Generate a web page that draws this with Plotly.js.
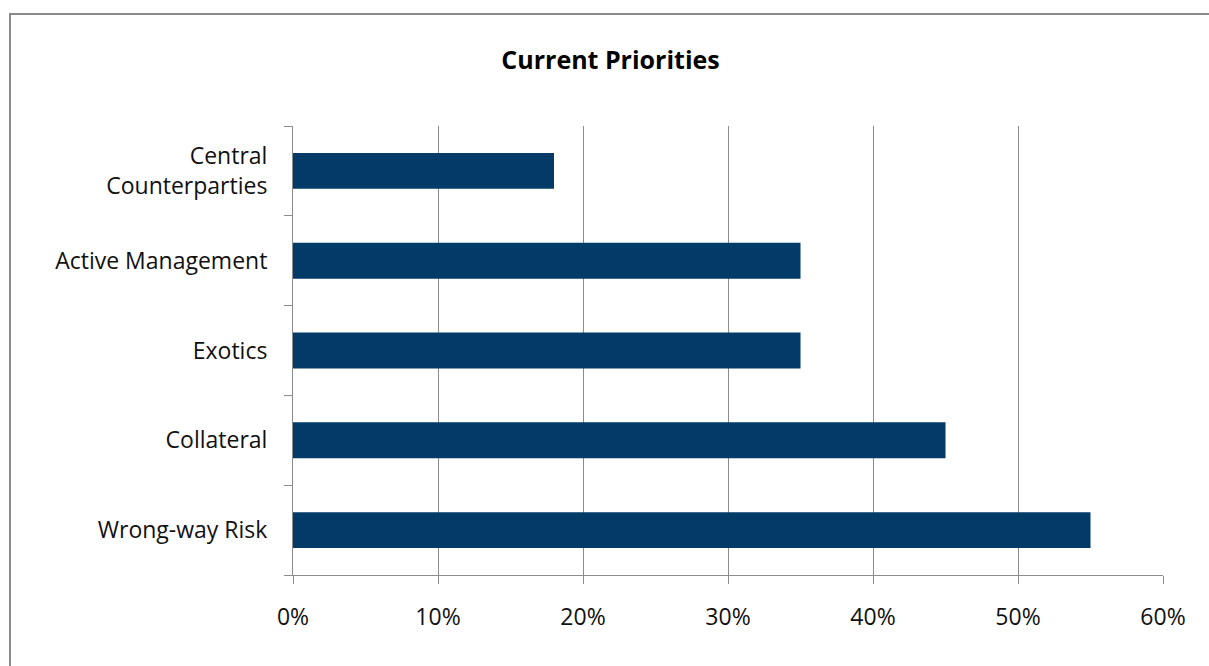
<!DOCTYPE html>
<html>
<head>
<meta charset="utf-8">
<script src="https://cdn.plot.ly/plotly-3.0.1.min.js"></script>
<style>
body{margin:0;padding:0;background:#fff;overflow:hidden;}
#frame{position:absolute;left:9px;top:13px;width:1300px;height:700px;border:2px solid #8a8a8a;pointer-events:none;z-index:5;}
#chart{position:absolute;left:0;top:0;width:1209px;height:666px;}
</style>
</head>
<body>
<div id="chart"></div>
<div id="frame"></div>
<script>
const categories = ["Wrong-way Risk", "Collateral", "Exotics", "Active Management", "Central<br>Counterparties"];
const values = [0.55, 0.45, 0.35, 0.35, 0.18];
const xTickVals = [0, 0.1, 0.2, 0.3, 0.4, 0.5, 0.6];
const xTickText = ["0%", "10%", "20%", "30%", "40%", "50%", "60%"];

const font = "'Open Sans', sans-serif";
const data = [{
  type: "bar",
  orientation: "h",
  y: categories,
  x: values,
  marker: {color: "#023a68"},
  hoverinfo: "x+y"
}];
const layout = {
  width: 1209, height: 666,
  margin: {l: 293, r: 46, t: 126, b: 91},
  paper_bgcolor: "#fff", plot_bgcolor: "#fff",
  bargap: 0.6,
  showlegend: false,
  title: {text: "<b>Current Priorities</b>", x: 0.505, xanchor: "center", y: 0.91, yanchor: "middle", xref: "container",
          font: {family: font, size: 25, color: "#000"}},
  xaxis: {
    range: [0, 0.6], tickvals: xTickVals, ticktext: xTickText,
    showgrid: true, gridcolor: "#8c8c8c", gridwidth: 1,
    showline: true, linecolor: "#8c8c8c", linewidth: 1,
    ticks: "outside", ticklen: 8, tickcolor: "#8c8c8c",
    ticklabelstandoff: 13,
    tickfont: {family: font, size: 23, color: "#111"},
    zeroline: false, fixedrange: true
  },
  yaxis: {
    type: "category", categoryorder: "array", categoryarray: categories,
    showgrid: false,
    showline: true, linecolor: "#8c8c8c", linewidth: 1,
    ticks: "outside", ticklen: 8, tickcolor: "#8c8c8c", tickson: "boundaries",
    ticklabelstandoff: 20,
    tickfont: {family: font, size: 23, color: "#111"},
    fixedrange: true
  }
};
Plotly.newPlot("chart", data, layout, {displayModeBar: false, staticPlot: true});
</script>
</body>
</html>
